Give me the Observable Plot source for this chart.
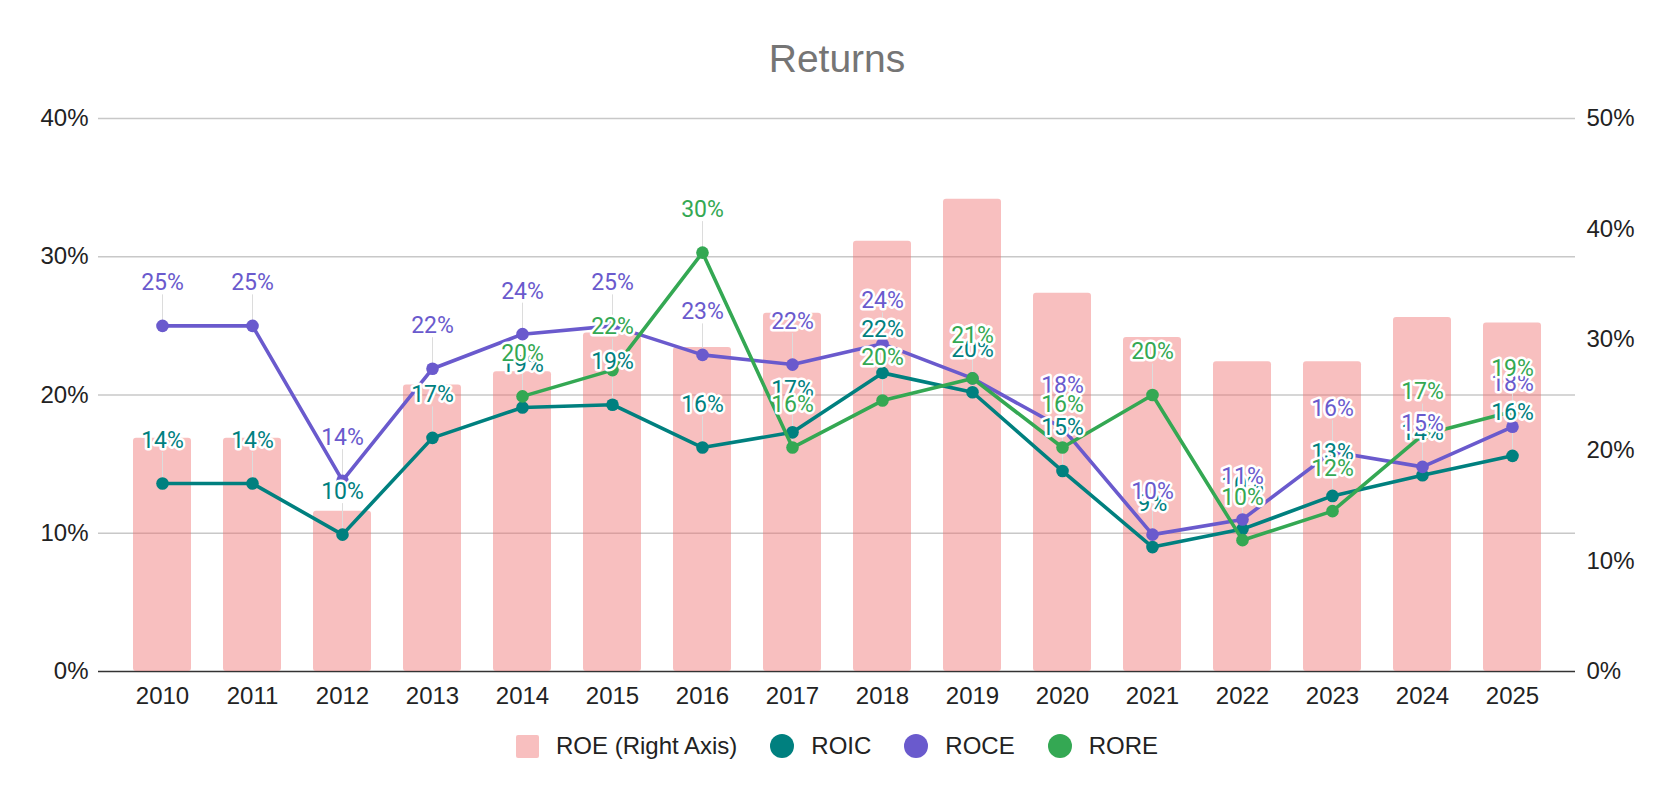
<!DOCTYPE html>
<html><head><meta charset="utf-8">
<script src="https://cdn.jsdelivr.net/npm/d3@7"></script>
<script src="https://cdn.jsdelivr.net/npm/@observablehq/plot@0.6"></script>
<style>
body{margin:0;background:#fff;}
#wrap{position:relative;width:1674px;height:798px;font-family:"Liberation Sans",Arial,sans-serif;overflow:hidden;}
#title{position:absolute;left:0;top:39px;width:1674px;text-align:center;font-size:39px;line-height:39px;color:#757575;}
#chart{position:absolute;left:0;top:0;}
#legend{position:absolute;left:0;top:734px;width:1674px;height:24px;display:flex;justify-content:center;align-items:center;font-size:24px;line-height:24px;color:#222;}
.item{display:flex;align-items:center;margin:0 16.5px;}
.sw{width:23px;height:23px;margin-right:17px;flex:none;}
</style></head>
<body><div id="wrap"><div id="title">Returns</div><div id="chart"></div><div id="legend"></div></div>
<script>
const years = ["2010","2011","2012","2013","2014","2015","2016","2017","2018","2019","2020","2021","2022","2023","2024","2025"];
const roe  = [21.1, 21.1, 14.5, 25.9, 27.1, 30.6, 29.3, 32.4, 38.9, 42.7, 34.2, 30.2, 28.0, 28.0, 32.0, 31.5];
const roic = [13.6, 13.6, 9.9, 16.9, 19.1, 19.3, 16.2, 17.3, 21.6, 20.2, 14.5, 9.0, 10.3, 12.7, 14.2, 15.6];
const roce = [25.0, 25.0, 13.8, 21.9, 24.4, 25.0, 22.9, 22.2, 23.7, 21.2, 17.6, 9.9, 11.0, 15.9, 14.8, 17.7];
const rore = [null, null, null, null, 19.9, 21.8, 30.3, 16.2, 19.6, 21.2, 16.2, 20.0, 9.5, 11.6, 17.1, 18.8];
const leftTicks = [0, 10, 20, 30, 40];
const rightTicks = [0, 10, 20, 30, 40, 50];

const seriesNames = ["ROIC", "ROCE", "RORE"];
const seriesValues = [roic, roce, rore];
const colors = {ROE: "#ee6e6e", ROIC: "#00807f", ROCE: "#6a5acd", RORE: "#34a853"};

const leftMax = 40, rightMax = 50, ratio = leftMax / rightMax;
const W = 1674, H = 720, mTop = 118, mBottom = 49, mLeft = 98, mRight = 99;
const pxPerUnit = (H - mTop - mBottom) / leftMax;
const labelDy = -43, leaderPx = 31;

const bars = years.map((y, i) => ({year: y, roe: roe[i]}));
const series = seriesNames.map((name, s) =>
  years.map((y, i) => ({year: y, name, v: seriesValues[s][i]})).filter(d => d.v != null));

const marks = [
  Plot.ruleY(leftTicks.filter(t => t > 0), {stroke: "#c8c8c8", strokeWidth: 1.6}),
  Plot.ruleY([0], {stroke: "#333", strokeWidth: 1.4}),
  Plot.barY(bars, {x: "year", y: d => d.roe * ratio, fill: colors.ROE, fillOpacity: 0.44, rx: 3}),
  Plot.axisY({anchor: "left", label: null, ticks: leftTicks, tickFormat: d => d + "%", tickSize: 0, tickPadding: 10, fontSize: 24, fill: "#222"}),
  Plot.axisY({anchor: "right", label: null, ticks: rightTicks.map(t => t * ratio), tickFormat: d => Math.round(d / ratio) + "%", tickSize: 0, tickPadding: 11, fontSize: 24, fill: "#222"}),
  Plot.axisX({label: null, tickSize: 0, tickPadding: 15, fontSize: 24, fill: "#222"})
];
// leader lines
series.forEach(data => {
  marks.push(Plot.ruleX(data, {x: "year", y1: "v", y2: d => d.v + leaderPx / pxPerUnit, stroke: "#dcdcdc", strokeWidth: 1}));
});
series.forEach(data => {
  const c = colors[data[0].name];
  marks.push(Plot.line(data, {x: "year", y: "v", stroke: c, strokeWidth: 3.6}));
  marks.push(Plot.dot(data, {x: "year", y: "v", fill: c, r: 6.3}));
});
series.forEach(data => {
  const c = colors[data[0].name];
  marks.push(Plot.text(data, {x: "year", y: "v", dy: labelDy, text: d => Math.round(d.v) + "%",
    fill: c, stroke: "white", strokeWidth: 5, paintOrder: "stroke", fontSize: 23, fontFamily: "Roboto"}));
});

const chart = Plot.plot({
  width: W, height: H,
  marginTop: mTop, marginBottom: mBottom, marginLeft: mLeft, marginRight: mRight,
  style: {fontFamily: "'Liberation Sans', Arial, sans-serif", fontSize: "24px", color: "#222", background: "transparent"},
  x: {type: "band", domain: years, paddingInner: 0.356, paddingOuter: 0.372, axis: null, label: null},
  y: {domain: [0, leftMax], axis: null, label: null},
  marks
});
document.getElementById("chart").appendChild(chart);

const legendItems = [
  {label: "ROE (Right Axis)", color: colors.ROE, shape: "square"},
  ...seriesNames.map(n => ({label: n, color: colors[n], shape: "circle"}))
];
const legend = document.getElementById("legend");
legendItems.forEach(it => {
  const el = document.createElement("div");
  el.className = "item";
  const sw = document.createElement("div");
  sw.className = "sw";
  if (it.shape === "square") { sw.style.background = it.color; sw.style.opacity = 0.44; sw.style.borderRadius = "2px"; }
  else { sw.style.background = it.color; sw.style.borderRadius = "50%"; sw.style.width = "24px"; sw.style.height = "24px"; }
  const tx = document.createElement("span");
  tx.textContent = it.label;
  el.appendChild(sw); el.appendChild(tx);
  legend.appendChild(el);
});
</script>
</body></html>
